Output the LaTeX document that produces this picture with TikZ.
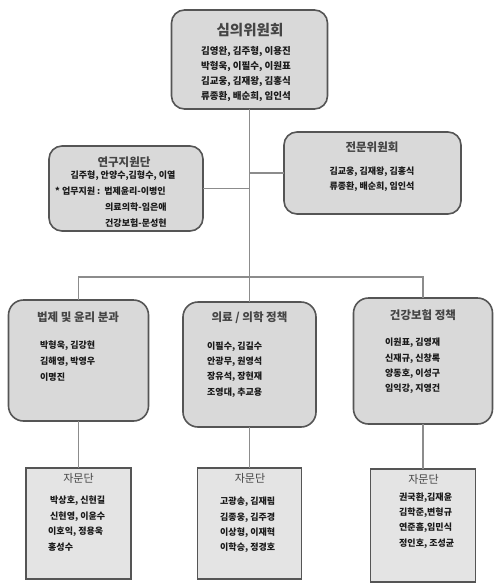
\documentclass[tikz,border=0pt]{standalone}
\usepackage{fontspec}
\setmainfont{Noto Sans CJK KR}
\begin{document}
\begin{tikzpicture}[x=1pt,y=-1pt,
  rbox/.style={draw=boxline,fill=boxfill,line width=1.6pt,rounded corners=13pt,inner sep=0pt,outer sep=0pt},
  sbox/.style={draw=boxline,fill=sboxfill,line width=1.6pt,inner sep=0pt,outer sep=0pt},
  conn/.style={draw=connline,line width=1.8pt},
  ttl/.style={text=titlecol,font=\fontsize{11.5}{14}\selectfont\bfseries,inner sep=0pt},
  sttl/.style={text=titlecol,font=\fontsize{11}{14}\selectfont,inner sep=0pt},
  names/.style={text=namecol,font=\fontsize{9}{15.3}\selectfont\bfseries,inner sep=0pt},
]
\definecolor{boxline}{HTML}{555555}
\definecolor{boxfill}{HTML}{D9D9D9}
\definecolor{sboxfill}{HTML}{E4E4E4}
\definecolor{connline}{HTML}{8C8C8C}
\definecolor{titlecol}{HTML}{454545}
\definecolor{namecol}{HTML}{1A1A1A}
\useasboundingbox (0,0) rectangle (500,587);

% boxes
\node[rbox,minimum width=156pt,minimum height=99pt] (top) at (249.5,59.5) {};
\node[rbox,minimum width=154pt,minimum height=85pt] (yg) at (126,188.5) {};
\node[rbox,minimum width=177pt,minimum height=82pt] (jm) at (372.5,173) {};
\node[rbox,minimum width=140pt,minimum height=121pt,rounded corners=15pt] (b1) at (78.5,360.5) {};
\node[rbox,minimum width=133pt,minimum height=125pt,rounded corners=15pt] (b2) at (249.5,364.5) {};
\node[rbox,minimum width=139pt,minimum height=126pt,rounded corners=15pt] (b3) at (423,361) {};
\node[sbox,minimum width=105pt,minimum height=111pt] (a1) at (78.5,523.5) {};
\node[sbox,minimum width=104pt,minimum height=111pt] (a2) at (249.5,523.5) {};
\node[sbox,minimum width=105pt,minimum height=113pt] (a3) at (423,525.5) {};

% connectors
\coordinate (bus) at (249.5,277);
\draw[conn] (top.south) -- (bus);
\draw[conn] (yg.east) -- (yg.east -| bus);
\draw[conn] (jm.west) -- (jm.west -| bus);
\draw[conn] (b1.north) |- (bus) -| (b3.north);
\draw[conn] (bus) -- (b2.north);
\draw[conn] (b1.south) -- (a1.north);
\draw[conn] (b2.south) -- (a2.north);
\draw[conn] (b3.south) -- (a3.north);

% top
\node[ttl,font=\fontsize{14.5}{17}\selectfont\bfseries] (t0) at (250,30) {심의위원회};
\node[names,align=center,font=\fontsize{9.5}{15}\selectfont\bfseries] (n0) at (246,74.5)
  {김영완, 김주형, 이용진\\박형욱, 이필수, 이원표\\김교웅, 김재왕, 김홍식\\류종환, 배순희, 임인석};

% 연구지원단
\node[ttl] (t1) at (124,162) {연구지원단};
\node[names] (n1a) at (123,175.5) {김주형, 안양수,김형수, 이열};
\node[names,anchor=west,align=left,font=\fontsize{9}{16}\selectfont\bfseries] (n1b) at (55,207)
  {* 업무지원 :\kern4pt 법제윤리-이병인\\\kern50pt 의료의학-임은애\\\kern50pt 건강보험-문성현};

% 전문위원회
\node[ttl] (t2) at (372,147) {전문위원회};
\node[names,align=center] (n2) at (372,179.5) {김교웅, 김재왕, 김홍식\\류종환, 배순희, 임인석};

% row boxes
\node[ttl] (t3) at (78,317) {법제 및 윤리 분과};
\node[names,align=left,anchor=west,font=\fontsize{9}{16}\selectfont\bfseries] (n3) at (40,361)
  {박형욱, 김강현\\김해영, 박영우\\이명진};

\node[ttl] (t4) at (249.5,318) {의료 / 의학 정책};
\node[names,align=left,anchor=west] (n4) at (207,369.5)
  {이필수, 김길수\\안광무, 원영석\\장유석, 장현재\\조영대, 추교용};

\node[ttl] (t5) at (423,315) {건강보험 정책};
\node[names,align=left,anchor=west] (n5) at (385,366)
  {이원표, 김영재\\신재규, 신창록\\양동호, 이성구\\임익강, 지영건};

% 자문단
\node[sttl] (t6) at (78.5,478) {자문단};
\node[names,align=left,anchor=west,font=\fontsize{9}{15.6}\selectfont\bfseries] (n6) at (48,523.5)
  {\hspace{2pt}박상호, 신현길\\\hspace{2pt}신현영, 이윤수\\이호익, 정용욱\\홍성수};

\node[sttl] (t7) at (250,478) {자문단};
\node[names,align=left,anchor=west] (n7) at (220,525)
  {고광송, 김재림\\김종웅, 김주경\\이상형, 이재혁\\이학승, 정경호};

\node[sttl] (t8) at (423.5,479) {자문단};
\node[names,align=left,anchor=west] (n8) at (399,520.5)
  {권국환,김재윤\\김학준,변형규\\연준흠,임민식\\정인호, 조성균};
\end{tikzpicture}
\end{document}
